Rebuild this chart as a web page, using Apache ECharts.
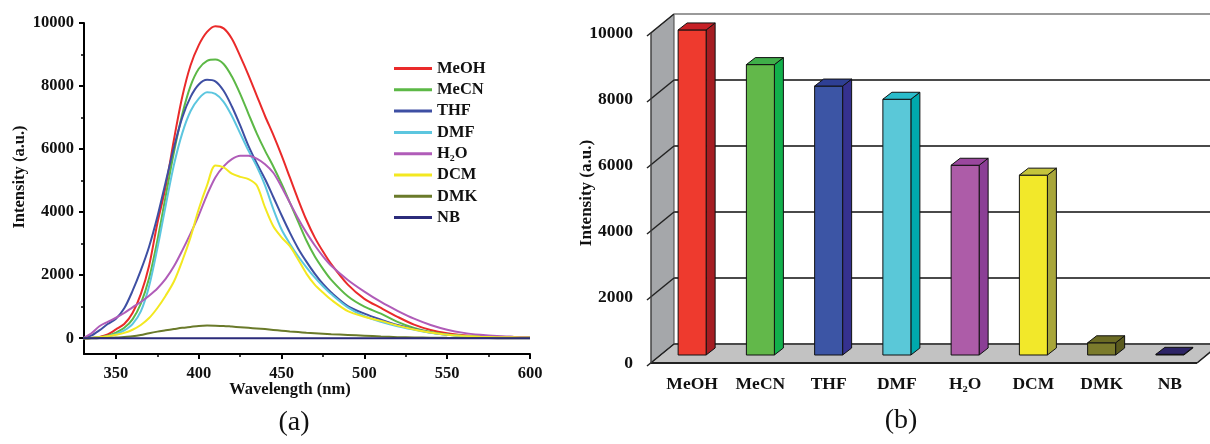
<!DOCTYPE html>
<html>
<head>
<meta charset="utf-8">
<script src="https://cdn.jsdelivr.net/npm/echarts@6/dist/echarts.min.js"></script>
<style>html,body{margin:0;padding:0;background:#fff;}#c{width:1210px;height:444px;}</style>
</head>
<body>
<div id="c"></div>
<script>
// ---------- data ----------
const wavelength = [330,335,340,345,350,355,360,365,370,375,380,385,390,395,400,405,410,415,420,425,430,435,440,445,450,455,460,465,470,475,480,490,500,510,520,530,540,550,560,570,580,590,600];
const meoh = [0,10,40,120,280,450,800,1400,2300,3650,4800,6300,7650,8650,9300,9720,9900,9830,9500,8950,8350,7700,7050,6450,5800,5100,4400,3750,3200,2750,2350,1700,1250,960,680,430,260,155,95,60,40,30,20];
const mecn = [0,8,30,80,180,330,600,1100,1900,3100,4500,5900,7100,8000,8550,8800,8840,8700,8300,7750,7120,6500,5950,5450,4900,4300,3700,3100,2600,2200,1850,1330,1000,780,520,330,200,120,75,50,35,25,20];
const thf = [0,80,250,450,620,950,1500,2150,2900,3850,4950,6050,7000,7650,8050,8200,8150,7850,7350,6750,6100,5550,5050,4480,3900,3350,2850,2430,2050,1720,1450,1020,780,590,420,290,180,110,70,45,35,28,20];
const dmf = [0,5,20,60,130,250,450,850,1650,2850,4200,5500,6500,7200,7600,7800,7750,7500,7050,6500,5950,5450,4850,4100,3450,3000,2600,2250,1930,1650,1400,980,700,520,380,270,170,110,70,45,35,28,22];
const h2o = [0,150,380,520,650,800,980,1150,1350,1580,1880,2280,2780,3320,3900,4550,5100,5450,5680,5790,5790,5700,5520,5250,4800,4300,3800,3350,2950,2600,2300,1850,1480,1150,870,620,420,270,170,110,70,50,35];
const dcm = [0,10,30,60,110,170,270,420,640,960,1350,1800,2450,3200,4100,4850,5480,5420,5220,5120,5050,4850,4150,3550,3200,2920,2500,2050,1700,1450,1220,860,680,550,400,280,180,110,75,50,35,28,22];
const dmk = [0,0,5,10,20,40,60,100,160,210,250,290,330,360,390,405,400,390,370,350,330,310,290,265,240,215,195,175,160,145,130,105,80,55,35,25,18,12,8,5,3,2,0];
const nb = [0,0,0,0,0,0,0,0,0,0,0,0,0,0,0,0,0,0,0,0,0,0,0,0,0,0,0,0,0,0,0,0,0,0,0,0,0,0,0,0,0,0,0];
const solvents = ['MeOH','MeCN','THF','DMF','H₂O','DCM','DMK','NB'];
const spectra = [meoh, mecn, thf, dmf, h2o, dcm, dmk, nb];
const barValues = [9850,8800,8150,7750,5750,5450,370,20];
const xTickValues = [350,400,450,500,550,600];
const xMinorTickValues = [375,425,475,525,575];
const yTickValues = [0,2000,4000,6000,8000,10000];
const yMinorTickValues = [1000,3000,5000,7000,9000];

// ---------- styles ----------
const lineColors = ['#ea2a2a','#5cb846','#3e4fa3','#5cc6df','#b05cb8','#f3e820','#6a7a2a','#2b2b7a'];
const barFront = ['#ee3a2e','#62b84a','#3c55a5','#5ac8d8','#ad5ca8','#f2e82a','#7b7b2c','#2d2466'];
const barSide  = ['#a51d22','#12b04b','#35318f','#00a9ad','#8b3e95','#a8a63a','#5a5a1e','#2d2466'];
const barTop   = ['#c62026','#3fae49','#2e3f94','#2abccb','#9a479e','#c4c43c','#6b6b24','#2d2466'];
const FONT = '"Liberation Serif", "Times New Roman", serif';
const plain = v => String(v);

const chart = echarts.init(document.getElementById('c'), null, {renderer: 'canvas'});

const lineSeries = solvents.map((name, k) => ({
  name: name,
  type: 'line',
  xAxisIndex: 0, yAxisIndex: 0,
  data: wavelength.map((w, i) => [w, spectra[k][i]]),
  showSymbol: false,
  smooth: 0.3,
  lineStyle: {color: lineColors[k], width: 2},
  itemStyle: {color: lineColors[k]},
  z: 3
}));

const DX = 23, DY = -19, FRAME_OFF = -7;
const frameSeries = {
  type: 'custom',
  xAxisIndex: 1, yAxisIndex: 2,
  data: [[0, 0]],
  z: 1,
  silent: true,
  renderItem: function (params, api) {
    const cs = params.coordSys;
    const x0 = cs.x + FRAME_OFF, x1 = cs.x + cs.width + FRAME_OFF;
    const yf = v => api.coord([0, v])[1];
    const ch = [];
    const y0 = yf(0), yTop = yf(yTickValues[yTickValues.length - 1]);
    ch.push({type: 'polygon', shape: {points: [[x0, yTop], [x0 + DX, yTop + DY], [x0 + DX, y0 + DY], [x0, y0]]},
      style: {fill: '#a5a7aa', stroke: '#444', lineWidth: 1}});
    ch.push({type: 'polygon', shape: {points: [[x0, y0], [x0 + DX, y0 + DY], [x1 + DX, y0 + DY], [x1, y0]]},
      style: {fill: '#c2c2c2', stroke: '#444', lineWidth: 1}});
    yTickValues.forEach(v => {
      const y = yf(v);
      const top = v === yTickValues[yTickValues.length - 1];
      ch.push({type: 'line', shape: {x1: x0 + DX, y1: y + DY, x2: x1 + DX + 20, y2: y + DY},
        style: {stroke: top ? '#9a9a9a' : '#4a4a4a', lineWidth: 2}});
      ch.push({type: 'line', shape: {x1: x0 - 4, y1: y + 3, x2: x0 + DX, y2: y + DY},
        style: {stroke: '#222', lineWidth: 1.5}});
    });
    ch.push({type: 'line', shape: {x1: x0, y1: y0, x2: x1, y2: y0}, style: {stroke: '#222', lineWidth: 2}});
    ch.push({type: 'line', shape: {x1: x1, y1: y0, x2: x1 + DX, y2: y0 + DY}, style: {stroke: '#222', lineWidth: 1.5}});
    ch.push({type: 'line', shape: {x1: x0, y1: yTop, x2: x0, y2: y0}, style: {stroke: '#444', lineWidth: 1}});
    return {type: 'group', children: ch};
  }
};

const BW = 28, BDX = 9, BDY = -7, BAR_DY = -8;
const barSeries = {
  type: 'custom',
  name: 'bars',
  xAxisIndex: 1, yAxisIndex: 2,
  data: barValues.map((v, i) => [i, v]),
  z: 2,
  renderItem: function (params, api) {
    const i = api.value(0), v = api.value(1);
    const t = api.coord([i, v]), b = api.coord([i, 0]);
    const xl = t[0] - BW / 2, xr = t[0] + BW / 2;
    const yt = t[1] + BAR_DY, yb = b[1] + BAR_DY;
    const st = {stroke: '#111', lineWidth: 1};
    return {type: 'group', children: [
      {type: 'polygon', shape: {points: [[xr, yt], [xr + BDX, yt + BDY], [xr + BDX, yb + BDY], [xr, yb]]},
        style: Object.assign({fill: barSide[i]}, st)},
      {type: 'polygon', shape: {points: [[xl, yb], [xr, yb], [xr, yt], [xl, yt]]},
        style: Object.assign({fill: barFront[i]}, st)},
      {type: 'polygon', shape: {points: [[xl, yt], [xr, yt], [xr + BDX, yt + BDY], [xl + BDX, yt + BDY]]},
        style: Object.assign({fill: barTop[i]}, st)}
    ]};
  }
};

const tickFont = {fontFamily: FONT, fontWeight: 'bold', color: '#111'};

chart.setOption({
  backgroundColor: '#ffffff',
  animation: false,
  textStyle: {fontFamily: FONT},
  grid: [
    {left: 84, top: 23, width: 446, height: 331},
    {left: 658, top: 33, width: 546, height: 330}
  ],
  legend: {
    data: solvents,
    orient: 'vertical',
    left: 389, top: 55,
    icon: 'rect',
    itemWidth: 38, itemHeight: 3,
    itemGap: 4.3,
    textStyle: Object.assign({fontSize: 16.5, lineHeight: 17, padding: [0, 0, 0, 0]}, tickFont)
  },
  xAxis: [
    {type: 'value', gridIndex: 0, position: 'bottom', min: 330.7, max: 600,
      axisLine: {show: true, onZero: false, lineStyle: {color: '#000', width: 2}},
      axisTick: {show: true, inside: false, length: 5, customValues: xTickValues, lineStyle: {color: '#000', width: 2}},
      axisLabel: Object.assign({show: true, customValues: xTickValues, fontSize: 16.5, margin: 11, formatter: plain}, tickFont),
      splitLine: {show: false}},
    {type: 'category', gridIndex: 1, position: 'bottom', data: solvents,
      axisLine: {show: false}, axisTick: {show: false},
      axisLabel: Object.assign({fontSize: 17.5, margin: 12, interval: 0}, tickFont),
      splitLine: {show: false}},
    {type: 'value', gridIndex: 0, position: 'bottom', min: 330.7, max: 600,
      axisLine: {show: false, onZero: false},
      axisTick: {show: true, inside: false, length: 3, customValues: xMinorTickValues, lineStyle: {color: '#000', width: 1.5}},
      axisLabel: {show: false}, splitLine: {show: false}}
  ],
  yAxis: [
    {type: 'value', gridIndex: 0, position: 'left', min: -500, max: 10000,
      axisLine: {show: true, onZero: false, lineStyle: {color: '#000', width: 2}},
      axisTick: {show: true, inside: false, length: 5, customValues: yTickValues, lineStyle: {color: '#000', width: 2}},
      axisLabel: Object.assign({show: true, customValues: yTickValues, fontSize: 16.5, margin: 10, formatter: plain}, tickFont),
      splitLine: {show: false}},
    {type: 'value', gridIndex: 0, position: 'left', min: -500, max: 10000,
      axisLine: {show: false, onZero: false},
      axisTick: {show: true, inside: false, length: 3, customValues: yMinorTickValues, lineStyle: {color: '#000', width: 1.5}},
      axisLabel: {show: false}, splitLine: {show: false}},
    {type: 'value', gridIndex: 1, position: 'left', min: 0, max: 10000, interval: 2000,
      axisLine: {show: false}, axisTick: {show: false},
      axisLabel: Object.assign({fontSize: 17.5, margin: 25, formatter: plain}, tickFont),
      splitLine: {show: false}}
  ],
  graphic: [
    {type: 'text', x: 20, y: 177, rotation: Math.PI / 2,
      style: {text: 'Intensity (a.u.)', align: 'center', verticalAlign: 'middle', fill: '#111', fontFamily: FONT, fontWeight: 'bold', fontSize: 16.5}},
    {type: 'text', x: 290, y: 390,
      style: {text: 'Wavelength (nm)', align: 'center', verticalAlign: 'middle', fill: '#111', fontFamily: FONT, fontWeight: 'bold', fontSize: 16.5}},
    {type: 'text', x: 587, y: 193, rotation: Math.PI / 2,
      style: {text: 'Intensity (a.u.)', align: 'center', verticalAlign: 'middle', fill: '#111', fontFamily: FONT, fontWeight: 'bold', fontSize: 17}},
    {type: 'text', x: 294, y: 423,
      style: {text: '(a)', align: 'center', verticalAlign: 'middle', fill: '#111', fontFamily: FONT, fontSize: 28}},
    {type: 'text', x: 901, y: 421,
      style: {text: '(b)', align: 'center', verticalAlign: 'middle', fill: '#111', fontFamily: FONT, fontSize: 28}}
  ],
  series: lineSeries.concat([frameSeries, barSeries])
});
</script>
</body>
</html>
